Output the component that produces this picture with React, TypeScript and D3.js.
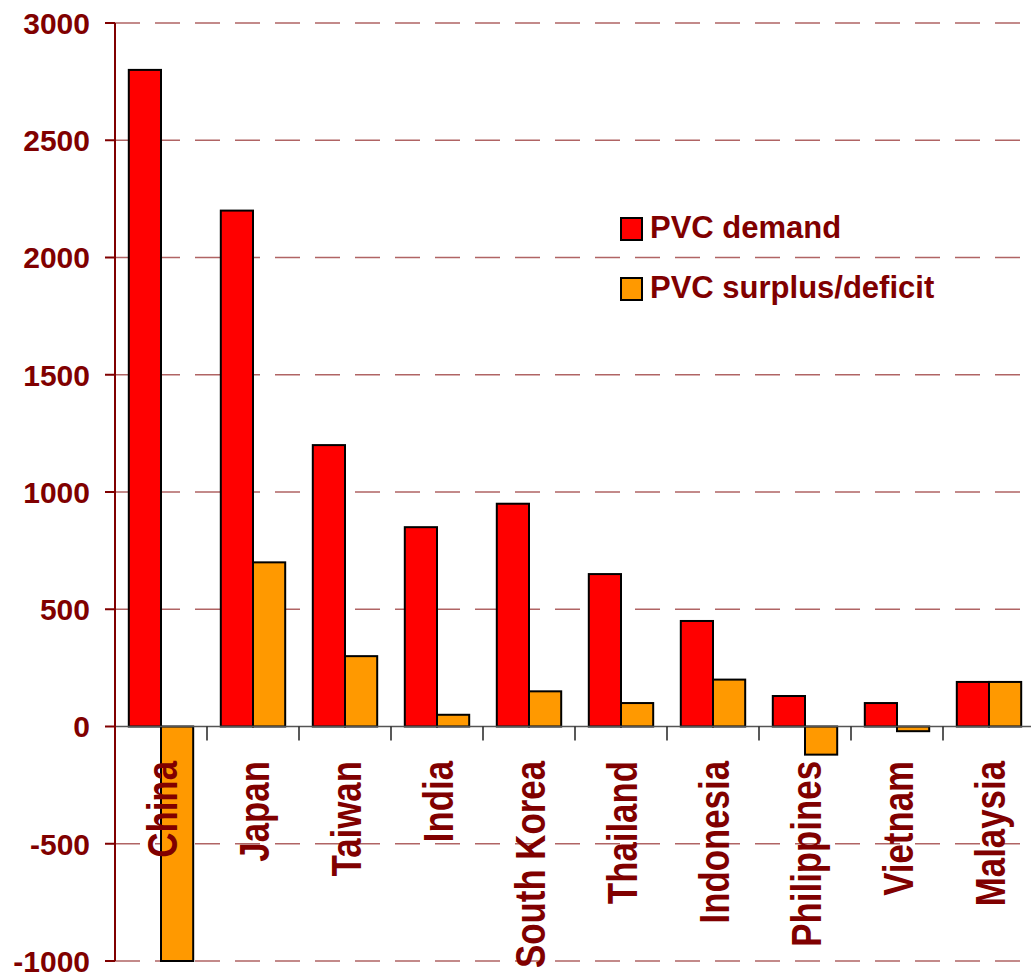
import React from "react";
import * as d3 from "d3";

const categories = ["China", "Japan", "Taiwan", "India", "South Korea", "Thailand", "Indonesia", "Philippines", "Vietnam", "Malaysia"];
const demand = [2800, 2200, 1200, 850, 950, 650, 450, 130, 100, 190];
const surplus = [-1000, 700, 300, 50, 150, 100, 200, -120, -20, 190];
const yTicks = [-1000, -500, 0, 500, 1000, 1500, 2000, 2500, 3000];
const seriesNames = ["PVC demand", "PVC surplus/deficit"];
const seriesColors = ["#FF0000", "#FF9900"];

const W = 1031;
const H = 973;
const plotLeft = 115;
const plotRight = 1035;
const plotTop = 23;
const plotBottom = 961;
const TEXT = "#800000";

export default function App() {
  const x = d3.scaleBand<string>().domain(categories).range([plotLeft, plotRight]).paddingInner(0.3).paddingOuter(0.15);
  const step = x.step();
  const sub = d3.scaleBand<number>().domain([0, 1]).range([0, x.bandwidth()]);
  const y = d3.scaleLinear().domain([-1000, 3000]).range([plotBottom, plotTop]);
  const y0 = y(0);
  const series = [demand, surplus];

  return (
    <svg width={W} height={H} style={{ position: "absolute", left: 0, top: 0 }} fontFamily="'Liberation Sans', Arial, sans-serif">
      <rect x={0} y={0} width={W} height={H} fill="#fff" />
      {/* gridlines */}
      {yTicks.filter((t) => t !== 0).map((t) => (
        <line key={"g" + t} x1={plotLeft} x2={plotRight} y1={y(t)} y2={y(t)} stroke="#b06464" strokeWidth={1.5} strokeDasharray="25,15" />
      ))}
      {/* bars */}
      {categories.map((c, i) =>
        series.map((s, k) => {
          const v = s[i];
          const bx = (x(c) as number) + (sub(k) as number);
          return (
            <rect key={c + k} x={bx} y={Math.min(y(v), y0)} width={sub.bandwidth()} height={Math.abs(y(v) - y0)} fill={seriesColors[k]} stroke="#000" strokeWidth={2} />
          );
        })
      )}
      {/* x axis line */}
      <line x1={plotLeft} x2={plotRight} y1={y0} y2={y0} stroke="#555" strokeWidth={1.5} />
      {categories.map((c, i) => {
        const tx = plotLeft + step * (i + 1);
        return <line key={"xt" + c} x1={tx} x2={tx} y1={y0} y2={y0 + 14} stroke="#222" strokeWidth={1.5} />;
      })}
      {/* y axis */}
      <line x1={plotLeft} x2={plotLeft} y1={plotTop} y2={plotBottom} stroke={TEXT} strokeWidth={2} />
      {yTicks.map((t) => (
        <g key={"yt" + t}>
          <line x1={plotLeft - 10} x2={plotLeft} y1={y(t)} y2={y(t)} stroke={TEXT} strokeWidth={2} />
          <text x={90} y={y(t)} dy="0.36em" textAnchor="end" fontSize={30} fontWeight="bold" fill={TEXT}>
            {t}
          </text>
        </g>
      ))}
      {/* category labels */}
      {categories.map((c) => {
        const cx = (x(c) as number) + x.bandwidth() / 2;
        return (
          <text key={"cl" + c} transform={`translate(${cx + 16},761) rotate(-90) scale(0.81,1)`} textAnchor="end" fontSize={43} fontWeight="bold" fill={TEXT}>
            {c}
          </text>
        );
      })}
      {/* legend */}
      {seriesNames.map((n, k) => (
        <g key={"lg" + n} transform={`translate(621,${218 + k * 60})`}>
          <rect x={0} y={0} width={21} height={22} fill={seriesColors[k]} stroke="#000" strokeWidth={2} />
          <text x={29} y={20} fontSize={31} fontWeight="bold" fill={TEXT}>
            {n}
          </text>
        </g>
      ))}
    </svg>
  );
}
